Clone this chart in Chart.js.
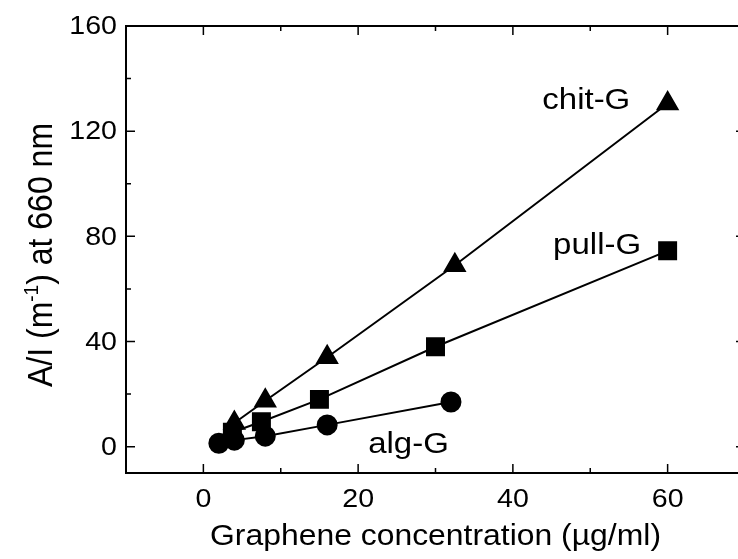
<!DOCTYPE html>
<html>
<head>
<meta charset="utf-8">
<script src="https://cdn.jsdelivr.net/npm/chart.js@4/dist/chart.umd.min.js"></script>
<style>
  html, body { margin: 0; padding: 0; background: #fff; overflow: hidden; }
  #wrap { width: 738px; height: 559px; overflow: hidden; }
</style>
</head>
<body>
<div id="wrap"><canvas id="myChart" width="760" height="559"></canvas></div>
<script>
// Data
const chitX = [4, 8, 16, 32.5, 60];
const chitY = [9, 17.5, 34, 69, 130.5];
const pullX = [3.75, 7.5, 15, 30, 60];
const pullY = [5.5, 9.5, 18, 38, 74.5];
const algX = [2, 4, 8, 16, 32];
const algY = [1.3, 2.5, 4, 8.3, 17];

// Axis ticks
const xTicks = [0, 20, 40, 60];
const xMinor = [10, 30, 50];
const yTicks = [0, 40, 80, 120, 160];
const yMinor = [20, 60, 100, 140];

// Curve labels (data units, left/baseline)
const seriesLabels = ["chit-G", "pull-G", "alg-G"];
const labelX = [43.8, 45.2, 21.3];
const labelY = [128.3, 73.4, -2.4];

const FONT = "'Liberation Sans', Arial, sans-serif";
const STRETCH = 1.1;

function toPoints(xs, ys) {
  return xs.map((x, i) => ({ x: x, y: ys[i] }));
}

// draws text slightly widened, like the source figure
function drawText(ctx, str, x, y, size, align, baseline) {
  ctx.save();
  ctx.translate(x, y);
  ctx.scale(STRETCH, 1);
  ctx.font = size + "px " + FONT;
  ctx.fillStyle = "#000";
  ctx.textAlign = align;
  ctx.textBaseline = baseline;
  ctx.fillText(str, 0, 0);
  ctx.restore();
}

const framePlugin = {
  id: "frame",
  afterDraw(chart) {
    const ctx = chart.ctx;
    const a = chart.chartArea;
    const xs = chart.scales.x;
    const ys = chart.scales.y;

    ctx.save();
    ctx.strokeStyle = "#000";
    ctx.lineWidth = 2;
    ctx.strokeRect(a.left, a.top, a.right - a.left, a.bottom - a.top);

    // inward ticks on all four sides
    ctx.beginPath();
    xTicks.forEach(v => {
      const px = xs.getPixelForValue(v);
      ctx.moveTo(px, a.bottom); ctx.lineTo(px, a.bottom - 9);
      ctx.moveTo(px, a.top); ctx.lineTo(px, a.top + 9);
    });
    xMinor.forEach(v => {
      const px = xs.getPixelForValue(v);
      ctx.moveTo(px, a.bottom); ctx.lineTo(px, a.bottom - 5);
      ctx.moveTo(px, a.top); ctx.lineTo(px, a.top + 5);
    });
    yTicks.forEach(v => {
      const py = ys.getPixelForValue(v);
      ctx.moveTo(a.left, py); ctx.lineTo(a.left + 9, py);
      ctx.moveTo(a.right, py); ctx.lineTo(a.right - 9, py);
    });
    yMinor.forEach(v => {
      const py = ys.getPixelForValue(v);
      ctx.moveTo(a.left, py); ctx.lineTo(a.left + 5, py);
      ctx.moveTo(a.right, py); ctx.lineTo(a.right - 5, py);
    });
    ctx.lineWidth = 1.5;
    ctx.stroke();
    ctx.restore();

    // tick labels
    xTicks.forEach(v => {
      drawText(ctx, String(v), xs.getPixelForValue(v), a.bottom + 34, 26, "center", "alphabetic");
    });
    yTicks.forEach(v => {
      drawText(ctx, String(v), a.left - 9, ys.getPixelForValue(v) + 1, 26, "right", "middle");
    });

    // curve labels
    seriesLabels.forEach((s, i) => {
      drawText(ctx, s, xs.getPixelForValue(labelX[i]), ys.getPixelForValue(labelY[i]), 30, "left", "alphabetic");
    });

    // x title
    drawText(ctx, "Graphene concentration (\u00b5g/ml)", (a.left + a.right) / 2, 545, 29, "center", "alphabetic");

    // y title with superscript
    ctx.save();
    ctx.translate(52, 255);
    ctx.scale(STRETCH, 1);
    ctx.rotate(-Math.PI / 2);
    ctx.fillStyle = "#000";
    const big = "32px " + FONT;
    const small = "19px " + FONT;
    const p1 = "A/I (m", sup = "-1", p2 = ") at 660 nm";
    ctx.font = big;
    const w1 = ctx.measureText(p1).width, w3 = ctx.measureText(p2).width;
    ctx.font = small;
    const w2 = ctx.measureText(sup).width;
    let cx = -(w1 + w2 + w3) / 2;
    ctx.textAlign = "left";
    ctx.textBaseline = "alphabetic";
    ctx.font = big;
    ctx.fillText(p1, cx, 0);
    cx += w1;
    ctx.font = small;
    ctx.fillText(sup, cx, -13);
    cx += w2;
    ctx.font = big;
    ctx.fillText(p2, cx, 0);
    ctx.restore();
  }
};

const ctx = document.getElementById("myChart");

new Chart(ctx, {
  type: "scatter",
  data: {
    datasets: [
      {
        label: "chit-G",
        data: toPoints(chitX, chitY),
        showLine: true,
        borderColor: "#000",
        backgroundColor: "#000",
        borderWidth: 2,
        pointStyle: "triangle",
        pointRadius: 11.5,
      },
      {
        label: "pull-G",
        data: toPoints(pullX, pullY),
        showLine: true,
        borderColor: "#000",
        backgroundColor: "#000",
        borderWidth: 2,
        pointStyle: "rect",
        pointRadius: 12,
      },
      {
        label: "alg-G",
        data: toPoints(algX, algY),
        showLine: true,
        borderColor: "#000",
        backgroundColor: "#000",
        borderWidth: 2,
        pointStyle: "circle",
        pointRadius: 9.5,
      },
    ],
  },
  options: {
    responsive: false,
    animation: false,
    devicePixelRatio: 1,
    layout: { padding: { left: 0, right: 15, top: 26, bottom: 0 } },
    plugins: {
      legend: { display: false },
      tooltip: { enabled: false },
    },
    scales: {
      x: {
        type: "linear",
        min: -10,
        max: 70,
        grid: { display: false },
        border: { display: false },
        ticks: { display: false },
        afterFit: s => { s.height = 86; },
      },
      y: {
        type: "linear",
        min: -10,
        max: 160,
        grid: { display: false },
        border: { display: false },
        ticks: { display: false },
        afterFit: s => { s.width = 126; },
      },
    },
  },
  plugins: [framePlugin],
});
</script>
</body>
</html>
